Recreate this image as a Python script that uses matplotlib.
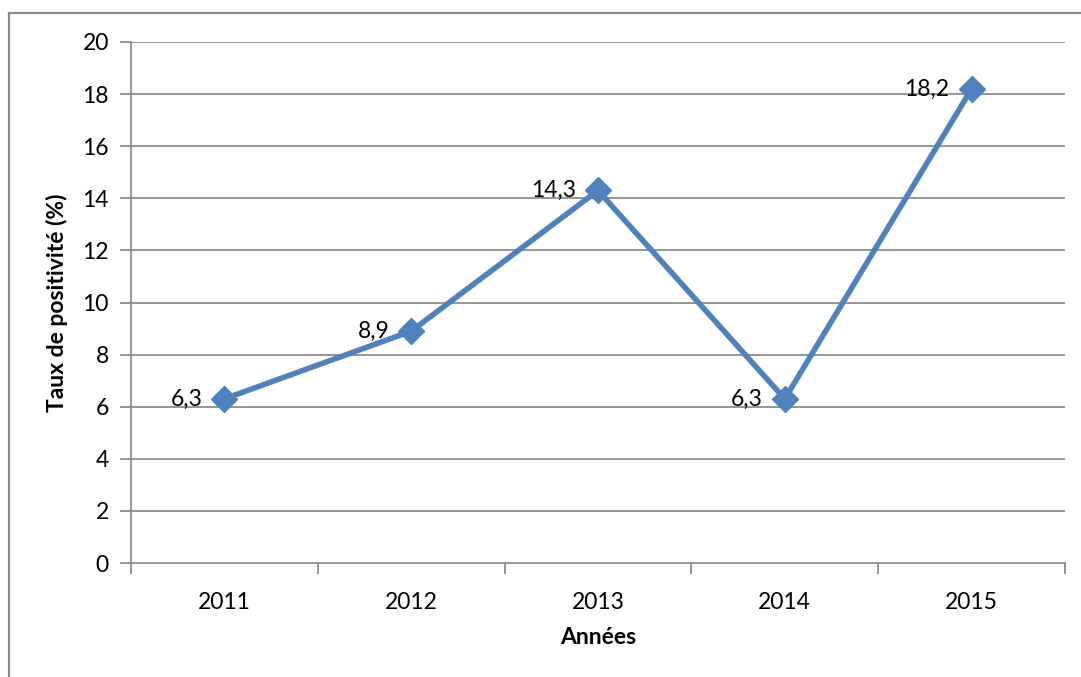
import matplotlib
matplotlib.use("Agg")
import matplotlib.pyplot as plt
from matplotlib.lines import Line2D

years = ["2011", "2012", "2013", "2014", "2015"]
rates = [6.3, 8.9, 14.3, 6.3, 18.2]
rate_labels = ["6,3", "8,9", "14,3", "6,3", "18,2"]
y_ticks = [0, 2, 4, 6, 8, 10, 12, 14, 16, 18, 20]

plt.rcParams['font.family'] = ['Lato', 'DejaVu Sans']

W, H = 1081, 677
fig = plt.figure(figsize=(W / 100, H / 100), dpi=100)
fig.patch.set_facecolor("white")

# outer chart frame (top and left edges)
frame_c = "#8a8a8a"
fig.add_artist(Line2D([8.5 / W, 8.5 / W], [0, 1 - 13 / H], transform=fig.transFigure,
                      color=frame_c, lw=1.6))
fig.add_artist(Line2D([8.5 / W, 1], [1 - 13 / H, 1 - 13 / H], transform=fig.transFigure,
                      color=frame_c, lw=1.6))

left, right, top, bottom = 131, 1065, 42, 563
ax = fig.add_axes([left / W, 1 - bottom / H, (right - left) / W, (bottom - top) / H])

fs = 16.5
grid_c = "#8c8c8c"
x = list(range(len(years)))
ax.set_xlim(-0.5, len(years) - 0.5)
ax.set_ylim(0, 20)

for v in y_ticks[1:]:
    ax.axhline(v, color=grid_c, lw=1.3, zorder=1)

for s in ["top", "right"]:
    ax.spines[s].set_visible(False)
for s in ["left", "bottom"]:
    ax.spines[s].set_color(grid_c)
    ax.spines[s].set_linewidth(1.3)

ax.set_yticks(y_ticks)
ax.set_yticklabels([str(v) for v in y_ticks])
ax.tick_params(axis="y", length=8, width=1.3, color=grid_c, labelsize=fs, pad=8)

# category boundaries as major ticks, labels at category centers
ax.set_xticks([i - 0.5 for i in range(len(years) + 1)])
ax.set_xticklabels([])
ax.set_xticks(x, minor=True)
ax.set_xticklabels(years, minor=True)
ax.tick_params(axis="x", which="major", length=8, width=1.3, color=grid_c)
ax.tick_params(axis="x", which="minor", length=0, labelsize=fs, pad=21)

ax.plot(x, rates, color="#4F81BD", lw=4, marker="D", markersize=13,
        markerfacecolor="#4F81BD", markeredgecolor="#4F81BD", zorder=3, clip_on=False)

for xi, yi, lab in zip(x, rates, rate_labels):
    ax.annotate(lab, (xi, yi), xytext=(-22, 0), textcoords="offset pixels",
                ha="right", va="center", fontsize=fs, color="black", zorder=4)

ax.set_xlabel("Années", fontsize=fs, fontweight="bold", labelpad=10)
ax.set_ylabel("Taux de positivité (%)", fontsize=fs, fontweight="bold", labelpad=10)

fig.savefig("out.png", dpi=100)
